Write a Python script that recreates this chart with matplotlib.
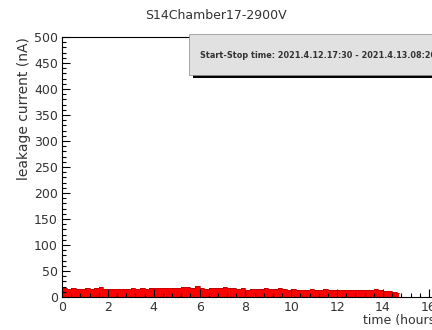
import numpy as np
from matplotlib import pyplot as plt
from matplotlib import ticker as ticker
from matplotlib.patches import Rectangle

plt.rcParams["font.family"] = ["DejaVu Sans"]

title = "S14Chamber17-2900V"
run_info = "Start-Stop time: 2021.4.12.17:30 - 2021.4.13.08:20"

# leakage current (nA), one reading every 0.2 hours
time_hours = np.arange(0, 14.8, 0.2)[:74]
current_na = [
    17, 16, 17, 16, 15, 17, 16, 17, 19, 16,
    15, 16, 15, 16, 16, 17, 16, 17, 16, 17,
    17, 18, 17, 18, 18, 18, 19, 19, 18, 21,
    17, 16, 17, 18, 17, 19, 18, 17, 16, 18,
    14, 15, 16, 15, 17, 15, 16, 17, 15, 14,
    15, 14, 13, 14, 15, 14, 13, 15, 14, 14,
    14, 13, 14, 13, 14, 14, 13, 14, 15, 13,
    12, 11, 10, 8,
]
end_time = 14.7

px_per_hour = (383 - 62) / 14
x_max = 16.5

fig = plt.figure(figsize=(4.32, 3.30), dpi=100)
# axes run past the right edge of the canvas (cropped view)
ax = fig.add_axes([62 / 432, 33 / 330, x_max * px_per_hour / 432, 260 / 330])

x = np.append(time_hours, end_time)
y = np.append(current_na, current_na[-1])
ax.fill_between(x, 0, y, step="post", color="#ff0000", linewidth=0)
ax.step(x, y, where="post", color="#b00000", linewidth=0.5)

ax.set_xlim(0, x_max)
ax.set_ylim(0, 500)
ax.xaxis.set_major_locator(ticker.MultipleLocator(2))
ax.xaxis.set_minor_locator(ticker.MultipleLocator(0.4))
ax.yaxis.set_major_locator(ticker.MultipleLocator(50))
ax.yaxis.set_minor_locator(ticker.MultipleLocator(10))
ax.tick_params(which="both", direction="in", top=False, right=False,
               labelsize=9, width=0.8, pad=3, labelcolor="#333333")
ax.tick_params(which="major", length=6)
ax.tick_params(which="minor", length=3)
for side in ["left", "bottom", "top"]:
    ax.spines[side].set_linewidth(0.8)

ax.set_xlabel("time (hours)", loc="right", fontsize=9, labelpad=0,
              color="#333333")
ax.set_ylabel("leakage current (nA)", loc="top", fontsize=10, labelpad=2,
              color="#333333")

fig.text(0.5, 0.953, title, ha="center", va="center", fontsize=9,
         color="#333333")

# shadowed info box, ROOT style
fig.patches.append(Rectangle((193 / 432, 1 - 78 / 330), 0.7, 41 / 330,
                             transform=fig.transFigure, facecolor="black",
                             edgecolor="none", zorder=5))
fig.patches.append(Rectangle((189 / 432, 1 - 75 / 330), 0.7, 41 / 330,
                             transform=fig.transFigure, facecolor="#e1e1e1",
                             edgecolor="#888888", linewidth=0.5, zorder=6))
fig.text(200 / 432, 1 - 56 / 330, run_info, ha="left", va="center",
         fontsize=5.85, fontweight="bold", color="#333333", zorder=7)

fig.savefig("out.png", dpi=100)
